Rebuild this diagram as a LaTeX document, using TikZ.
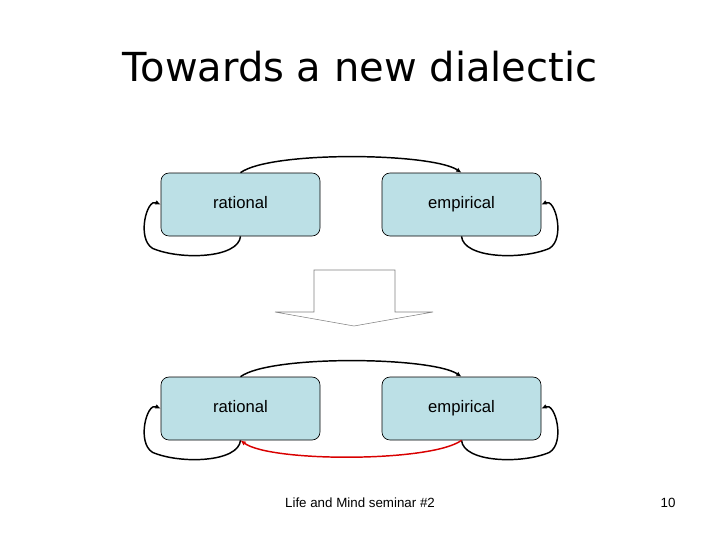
\documentclass[tikz,border=0pt]{standalone}
\usepackage{fontspec}
\setmainfont{Liberation Sans}
\newfontfamily\titlefont{DejaVu Sans}
\usetikzlibrary{arrows.meta}
\definecolor{boxfill}{HTML}{BCE0E6}
\begin{document}
\begin{tikzpicture}[x=0.75pt,y=-0.75pt,
  cbox/.style={draw=black,fill=boxfill,rounded corners=6pt,minimum width=119.25pt,minimum height=47.25pt,text height=9pt,text depth=3pt,font=\fontsize{12.5}{14}\selectfont,line width=0.5pt},
  link/.style={line width=1.1pt,-{Latex[length=4pt,width=3.5pt]}}]
\useasboundingbox (0,0) rectangle (720,540);
\node[font=\titlefont\fontsize{30}{34}\selectfont] (title) at (360,67) {Towards a new dialectic};
\node[cbox] (r1) at (240.5,204.5) {rational};
\node[cbox] (e1) at (461.5,204.5) {empirical};
\node[cbox] (r2) at (240.5,408.5) {rational};
\node[cbox] (e2) at (461.5,408.5) {empirical};
\foreach \r/\e in {r1/e1,r2/e2}{
  \draw[link] (\r.north) .. controls ([shift={(30,-22)}]\r.north) and ([shift={(-30,-20)}]\e.north) .. (\e.north);
  \draw[link] (\r.south) .. controls ([shift={(-2,22)}]\r.south) and ([shift={(-60,24)}]\r.south) .. ([shift={(-88,12)}]\r.south) .. controls ([shift={(-104,2)}]\r.south) and ([shift={(-14,-6)}]\r.west) .. (\r.west);
  \draw[link] (\e.south) .. controls ([shift={(2,22)}]\e.south) and ([shift={(60,24)}]\e.south) .. ([shift={(88,12)}]\e.south) .. controls ([shift={(104,2)}]\e.south) and ([shift={(14,-6)}]\e.east) .. (\e.east);
}
\draw[link,red!85!black] (e2.south) .. controls ([shift={(-30,22)}]e2.south) and ([shift={(30,22)}]r2.south) .. (r2.south);
\draw[draw=gray,fill=white,line width=0.4pt] (314,270) -- (395,270) -- (395,312) -- (433,312) -- (354,326) -- (275,312) -- (314,312) -- cycle;
\node[font=\fontsize{10}{12}\selectfont] (foot) at (360,503) {Life and Mind seminar \#2};
\node[font=\fontsize{10}{12}\selectfont] (num) at (668,503) {10};
\end{tikzpicture}
\end{document}
